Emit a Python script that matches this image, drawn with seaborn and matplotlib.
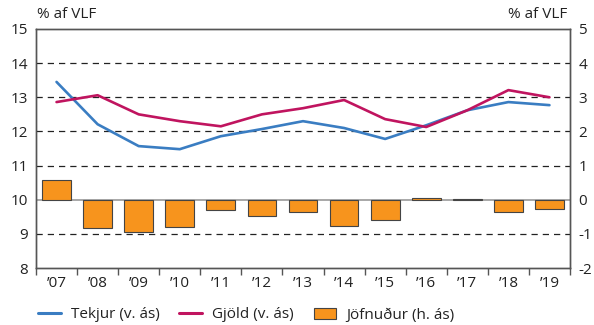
"""Tekjur, gjöld og jöfnuður hins opinbera sem % af VLF"""
import numpy as np
import pandas as pd
import matplotlib
matplotlib.use('Agg')
import matplotlib.pyplot as plt
from matplotlib.lines import Line2D
from matplotlib.patches import Patch
import seaborn as sns

# Data
years = ['\u201907', '\u201908', '\u201909', '\u201910', '\u201911', '\u201912', '\u201913',
         '\u201914', '\u201915', '\u201916', '\u201917', '\u201918', '\u201919']
tekjur = [13.45, 12.21, 11.57, 11.48, 11.86, 12.07, 12.30, 12.10, 11.78, 12.18, 12.62, 12.86, 12.77]
gjold = [12.86, 13.06, 12.50, 12.30, 12.15, 12.50, 12.68, 12.92, 12.36, 12.13, 12.62, 13.21, 13.00]
jofnudur = [0.59, -0.82, -0.94, -0.79, -0.30, -0.47, -0.37, -0.78, -0.58, 0.06, 0.01, -0.36, -0.26]

left_ticks = [8, 9, 10, 11, 12, 13, 14, 15]
right_ticks = [-2, -1, 0, 1, 2, 3, 4, 5]

BLUE = '#3a7dc2'
RED = '#c0145f'
ORANGE = '#f7941d'
SPINE = '#555555'

df = pd.DataFrame({'ar': years, 'tekjur': tekjur, 'gjold': gjold, 'jofnudur': jofnudur})

sns.set_theme(style='white')
plt.rcParams['font.family'] = ['Open Sans', 'DejaVu Sans']
plt.rcParams['axes.unicode_minus'] = False

fig = plt.figure(figsize=(5.94, 3.25), dpi=100)
ax = fig.add_axes([36 / 594, 1 - 268 / 325, 534 / 594, 239 / 325])
ax2 = ax.twinx()

# Bars on right axis
sns.barplot(data=df, x='ar', y='jofnudur', ax=ax2, color=ORANGE, width=0.7,
            edgecolor='#444444', linewidth=0.8, saturation=1, zorder=3)
ax2.axhline(0, color='#999999', linewidth=1.2, zorder=2)

# Lines on left axis
sns.lineplot(data=df, x='ar', y='tekjur', ax=ax, color=BLUE, linewidth=1.9, sort=False)
sns.lineplot(data=df, x='ar', y='gjold', ax=ax, color=RED, linewidth=1.9, sort=False)
ax.set_zorder(ax2.get_zorder() + 1)
ax.patch.set_visible(False)

ax.set_ylim(8, 15)
ax2.set_ylim(-2, 5)
ax.set_xlim(-0.5, len(years) - 0.5)
ax.set_yticks(left_ticks)
ax2.set_yticks(right_ticks)
ax.set_yticklabels([str(t) for t in left_ticks], fontsize=11, color='#222222')
ax2.set_yticklabels([str(t) for t in right_ticks], fontsize=11, color='#222222')

# dashed grid lines
for y in [9, 11, 12, 13, 14]:
    ax.axhline(y, color='#222222', linewidth=0.9, dashes=(5, 4), zorder=0)

ax.set_xlabel('')
ax.set_ylabel('')
ax2.set_xlabel('')
ax2.set_ylabel('')

ax.set_xticks(range(len(years)))
ax.set_xticklabels(years, fontsize=11, color='#222222')
ax.set_xticks(np.arange(-0.5, len(years)), minor=True)
ax.tick_params(axis='x', which='major', length=0, pad=6)
ax.tick_params(axis='x', which='minor', length=5, width=1, color=SPINE, direction='out', bottom=True)
ax.tick_params(axis='y', length=0, pad=6)
ax2.tick_params(axis='y', length=0, pad=6)

for a in (ax, ax2):
    for s in a.spines.values():
        s.set_color(SPINE)
        s.set_linewidth(1.0)

fig.text(37 / 594, 1 - 14 / 325, '% af VLF', fontsize=11, color='#222222', va='center', ha='left')
fig.text(567 / 594, 1 - 14 / 325, '% af VLF', fontsize=11, color='#222222', va='center', ha='right')

handles = [Line2D([0], [0], color=BLUE, linewidth=2.2),
           Line2D([0], [0], color=RED, linewidth=2.2),
           Patch(facecolor=ORANGE, edgecolor='#444444', linewidth=0.8)]
labels = ['Tekjur (v. ás)', 'Gjöld (v. ás)', 'Jöfnuður (h. ás)']
fig.legend(handles, labels, loc='center left', bbox_to_anchor=(24 / 594, 1 - 315 / 325),
           ncol=3, frameon=False, fontsize=11, handlelength=1.5, columnspacing=1.3,
           handletextpad=0.65, labelcolor='#222222')

fig.savefig('out.png', dpi=100)
